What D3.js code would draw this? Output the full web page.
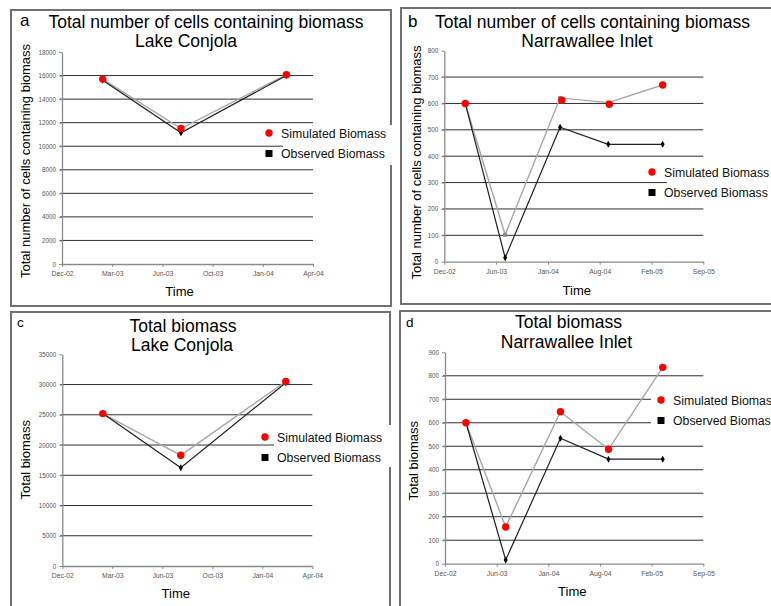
<!DOCTYPE html>
<html>
<head>
<meta charset="utf-8">
<script src="https://cdn.jsdelivr.net/npm/d3@7"></script>
<style>
body { margin: 0; background: #fff; }
text { font-family: "Liberation Sans", Arial, sans-serif; }
</style>
</head>
<body>
<script>
var parse = d3.timeParse("%Y-%m-%d")

// sampling dates
var conjolaDates = ["2003-03-01", "2003-08-04", "2004-03-01"]
var narraDates = ["2003-03-01", "2003-08-02", "2004-03-01", "2004-09-03", "2005-04-01"]

// a: cells containing biomass, Lake Conjola
var cellsConjolaSim = [15700, 11500, 16070]
var cellsConjolaObs = [15600, 11150, 16000]
// b: cells containing biomass, Narrawallee Inlet
var cellsNarraSim = [600, 102, 621, 603, 670]
var cellsNarraSimDots = [600, null, 612, 597, 670]
var cellsNarraSimDotDates = ["2003-03-01", "2003-08-02", "2004-03-08", "2004-09-07", "2005-04-01"]
var cellsNarraObs = [600, 15, 510, 445, 445]
// c: total biomass, Lake Conjola
var bioConjolaSim = [25200, 18300, 30500]
var bioConjolaObs = [25200, 16250, 30300]
// d: total biomass, Narrawallee Inlet
var bioNarraSim = [600, 156, 647, 487, 836]
var bioNarraObs = [600, 16, 534, 445, 445]

// x tick dates (100 / 200 day steps)
var shortTicks = ["2002-12-10", "2003-03-20", "2003-06-28", "2003-10-06", "2004-01-14", "2004-04-23"]
var longTicks = ["2002-12-10", "2003-06-28", "2004-01-14", "2004-08-01", "2005-02-17", "2005-09-05"]

var legendLabels = ["Simulated Biomass", "Observed Biomass"]

var panels = [
  { letter: 'a', title: ['Total number of cells containing biomass', 'Lake Conjola'], ytitle: 'Total number of cells containing biomass',
    dates: conjolaDates, sim: cellsConjolaSim, obs: cellsConjolaObs, ticks: shortTicks, yMax: 18000, yStep: 2000,
    box: [11, 10, 380, 296], xr: [62, 313], yr: [264, 52],
    letterPos: [20, 26, 17], t1: [206, 28], t2: [186, 47], yt: [30, 161], xt: [179.5, 296],
    leg: { x: 269, y: 133, cx: 283, cy: 125, ch: 40 } },
  { letter: 'b', title: ['Total number of cells containing biomass', 'Narrawallee Inlet'], ytitle: 'Total number of cells containing biomass',
    dates: narraDates, sim: cellsNarraSim, simDots: cellsNarraSimDots, simDotDates: cellsNarraSimDotDates, obs: cellsNarraObs,
    ticks: longTicks, yMax: 800, yStep: 100,
    box: [401, 8, 400, 296], xr: [444.3, 703.3], yr: [261.7, 50.7],
    letterPos: [408, 27, 17], t1: [592.5, 28], t2: [587, 47], yt: [421, 162.5], xt: [576.8, 295],
    leg: { x: 652, y: 172, cx: 667, cy: 163, ch: 38 } },
  { letter: 'c', title: ['Total biomass', 'Lake Conjola'], ytitle: 'Total biomass',
    dates: conjolaDates, sim: bioConjolaSim, obs: bioConjolaObs, ticks: shortTicks, yMax: 35000, yStep: 5000,
    box: [11, 312, 379, 320], xr: [62.3, 312.3], yr: [566, 354.3],
    letterPos: [17, 327, 13.5], t1: [183, 332], t2: [182, 351], yt: [30, 459.7], xt: [175.8, 597.5],
    leg: { x: 265, y: 437, cx: 274, cy: 425, ch: 42 } },
  { letter: 'd', title: ['Total biomass', 'Narrawallee Inlet'], ytitle: 'Total biomass',
    dates: narraDates, sim: bioNarraSim, obs: bioNarraObs, ticks: longTicks, yMax: 900, yStep: 100,
    box: [400, 311, 400, 320], xr: [445, 703.3], yr: [563.7, 352.3],
    letterPos: [406, 327, 13.5], t1: [568.5, 328], t2: [566.5, 347.5], yt: [417.6, 460.8], xt: [572.3, 595.5],
    leg: { x: 661, y: 400, cx: 651, cy: 386, ch: 48 } }
]

var svg = d3.select("body").append("svg")
    .attr("width", 771)
    .attr("height", 606)

function drawPanel(p) {
  var g = svg.append('g')

  g.append('rect')
    .attr('x', p.box[0]).attr('y', p.box[1])
    .attr('width', p.box[2]).attr('height', p.box[3])
    .attr('fill', 'none')
    .attr('stroke', '#707070')
    .attr('stroke-width', 2)

  var x = d3.scaleTime()
    .domain([parse(p.ticks[0]), parse(p.ticks[p.ticks.length - 1])])
    .range(p.xr)
  var y = d3.scaleLinear()
    .domain([0, p.yMax])
    .range(p.yr)
  var yTicks = d3.range(0, p.yMax + 1, p.yStep)

  // gridlines
  g.append('g').selectAll('line')
    .data(yTicks.filter(function(d) { return d > 0 && d < p.yMax }))
    .enter().append('line')
    .attr('x1', p.xr[0] - 2).attr('x2', p.xr[1])
    .attr('y1', function(d) { return y(d) }).attr('y2', function(d) { return y(d) })
    .attr('stroke', '#2e2e2e')
    .attr('stroke-width', 1)

  // axes
  var ya = g.append('g')
    .attr('transform', 'translate(' + p.xr[0] + ',0)')
    .call(d3.axisLeft(y).tickValues(yTicks).tickFormat(d3.format('d'))
      .tickSize(3).tickSizeOuter(0).tickPadding(3))
  var xa = g.append('g')
    .attr('transform', 'translate(0,' + p.yr[0] + ')')
    .call(d3.axisBottom(x).tickValues(p.ticks.map(parse)).tickFormat(d3.timeFormat('%b-%y'))
      .tickSize(3).tickSizeOuter(0).tickPadding(4))
  ;[ya, xa].forEach(function(a) {
    a.select('.domain').attr('stroke', '#8a8a8a').attr('stroke-width', 1.3)
    a.selectAll('.tick line').attr('stroke', '#8a8a8a')
    a.selectAll('.tick text').attr('fill', '#555')
      .style('font-family', '"Liberation Sans", Arial, sans-serif')
  })
  ya.selectAll('.tick text').attr('font-size', '6.3px')
  xa.selectAll('.tick text').attr('font-size', '6.8px')

  // legend backdrop hides part of the gridlines, as in the original
  g.append('rect')
    .attr('x', p.leg.cx).attr('y', p.leg.cy)
    .attr('width', 800).attr('height', p.leg.ch)
    .attr('fill', '#fff')

  var simData = p.dates.map(function(d, i) { return { date: parse(d), v: p.sim[i] } })
  var obsData = p.dates.map(function(d, i) { return { date: parse(d), v: p.obs[i] } })
  var dotData = p.simDots
    ? p.simDotDates.map(function(d, i) { return { date: parse(d), v: p.simDots[i] } }).filter(function(d) { return d.v != null })
    : simData

  var line = d3.line()
    .x(function(d) { return x(d.date) })
    .y(function(d) { return y(d.v) })

  g.append('path').datum(simData)
    .attr('d', line)
    .attr('fill', 'none')
    .attr('stroke', '#a6a6a6')
    .attr('stroke-width', 1.4)

  g.selectAll('.simsq').data(simData).enter().append('rect')
    .attr('class', 'simsq')
    .attr('x', function(d) { return x(d.date) - 2 })
    .attr('y', function(d) { return y(d.v) - 2 })
    .attr('width', 4).attr('height', 4)
    .attr('fill', '#8c8c8c')

  g.append('path').datum(obsData)
    .attr('d', line)
    .attr('fill', 'none')
    .attr('stroke', '#1e1e1e')
    .attr('stroke-width', 1.2)

  g.selectAll('.obs').data(obsData).enter().append('path')
    .attr('class', 'obs')
    .attr('transform', function(d) { return 'translate(' + x(d.date) + ',' + y(d.v) + ')' })
    .attr('d', d3.symbol(d3.symbolDiamond, 14))
    .attr('fill', '#000')

  g.selectAll('.sim').data(dotData).enter().append('circle')
    .attr('class', 'sim')
    .attr('cx', function(d) { return x(d.date) })
    .attr('cy', function(d) { return y(d.v) })
    .attr('r', 3.7)
    .attr('fill', '#ff0000')

  // legend
  g.append('circle')
    .attr('cx', p.leg.x).attr('cy', p.leg.y).attr('r', 3.7)
    .attr('fill', '#ff0000')
  g.append('rect')
    .attr('x', p.leg.x - 3.5).attr('y', p.leg.y + 20.5 - 3.5)
    .attr('width', 7).attr('height', 7)
    .attr('fill', '#000')
  legendLabels.forEach(function(t, i) {
    g.append('text')
      .attr('x', p.leg.x + 12).attr('y', p.leg.y + 4.5 + i * 20.5)
      .attr('font-size', '12.3px')
      .attr('fill', '#111')
      .text(t)
  })

  // titles
  g.append('text')
    .attr('x', p.letterPos[0]).attr('y', p.letterPos[1])
    .attr('font-size', p.letterPos[2] + 'px')
    .text(p.letter)
  g.append('text')
    .attr('x', p.t1[0]).attr('y', p.t1[1])
    .attr('text-anchor', 'middle')
    .attr('font-size', '17.5px')
    .text(p.title[0])
  g.append('text')
    .attr('x', p.t2[0]).attr('y', p.t2[1])
    .attr('text-anchor', 'middle')
    .attr('font-size', '17.5px')
    .text(p.title[1])
  g.append('text')
    .attr('transform', 'translate(' + p.yt[0] + ',' + p.yt[1] + ') rotate(-90)')
    .attr('text-anchor', 'middle')
    .attr('font-size', '13px')
    .text(p.ytitle)
  g.append('text')
    .attr('x', p.xt[0]).attr('y', p.xt[1])
    .attr('text-anchor', 'middle')
    .attr('font-size', '13px')
    .text('Time')
}

panels.forEach(drawPanel)
</script>
</body>
</html>
